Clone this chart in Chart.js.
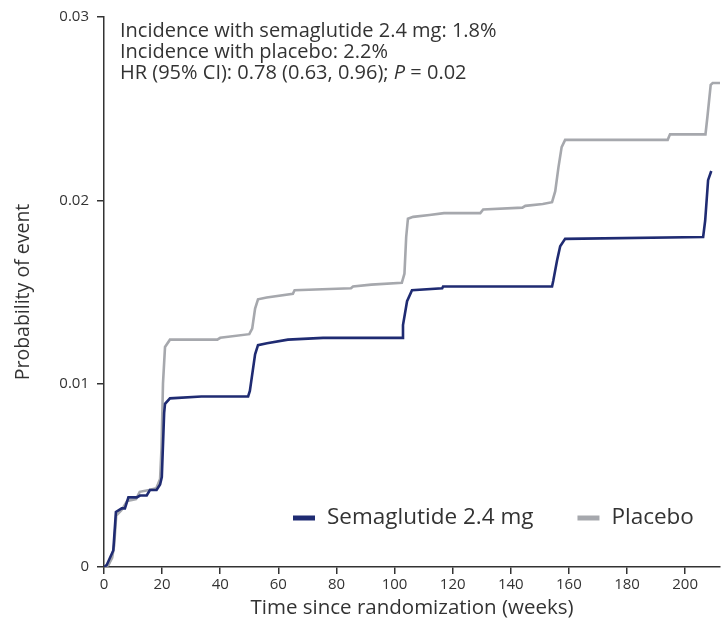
<!DOCTYPE html>
<html>
<head>
<meta charset="utf-8">
<script src="https://cdn.jsdelivr.net/npm/chart.js@4.4.1/dist/chart.umd.min.js"></script>
<style>
  html, body { margin: 0; padding: 0; background: #ffffff; }
  #wrap { width: 723px; height: 631px; position: relative; }
</style>
</head>
<body>
<div id="wrap"><canvas id="c" width="723" height="631"></canvas></div>
<script>
// ---- Data ----
const seriesLabels = ['Semaglutide 2.4 mg', 'Placebo'];

const semaWeeks = [0, 0.9, 3.2, 4.1, 6.1, 7.2, 8.4, 11.3, 12.4, 14.7, 15.8, 18.1, 19.3, 19.9, 20.7, 21.0, 22.7, 33.5, 49.6,
  50.2, 52.0, 53.0, 56.1, 63.3, 75.4, 102.6, 102.9, 104.3, 106.0, 116.4, 116.7, 154.2, 154.6, 155.9, 157.0, 158.7,
  206.2, 206.9, 207.9, 209.0];
const semaProb = [0, 0.0001, 0.0009, 0.0030, 0.0032, 0.0032, 0.0038, 0.0038, 0.0039, 0.0039, 0.0042, 0.0042, 0.0045, 0.0049, 0.0084, 0.0089, 0.0092, 0.0093, 0.0093,
  0.0096, 0.0116, 0.0121, 0.0122, 0.0124, 0.0125, 0.0125, 0.0132, 0.0145, 0.0151, 0.0152, 0.0153, 0.0153, 0.0156, 0.0167, 0.0175, 0.0179,
  0.0180, 0.0189, 0.0211, 0.0216];

const placeboWeeks = [0, 1.5, 2.8, 3.5, 4.2, 6.0, 8.0, 11.0, 12.3, 15.5, 18.0, 19.3, 19.8, 20.3, 21.0, 22.7, 39.0, 40.0, 50.0,
  51.0, 52.0, 53.0, 56.0, 65.0, 65.6, 85.0, 85.7, 92.0, 102.5, 103.4, 104.0, 104.6, 106.4, 112.0, 117.0, 129.5, 130.5,
  144.0, 145.0, 151.0, 154.2, 155.3, 156.4, 157.5, 158.7, 194.0, 194.8, 207.0, 207.7, 208.8, 209.5, 212.0];
const placeboProb = [0, 0.0001, 0.0005, 0.0012, 0.0028, 0.0031, 0.0036, 0.0037, 0.0041, 0.0042, 0.0043, 0.0048, 0.0065, 0.0100, 0.0120, 0.0124, 0.0124, 0.0125, 0.0127,
  0.0130, 0.0141, 0.0146, 0.0147, 0.0149, 0.0151, 0.0152, 0.0153, 0.0154, 0.0155, 0.0160, 0.0180, 0.0190, 0.0191, 0.0192, 0.0193, 0.0193, 0.0195,
  0.0196, 0.0197, 0.0198, 0.0199, 0.0205, 0.0218, 0.0229, 0.0233, 0.0233, 0.0236, 0.0236, 0.0246, 0.0263, 0.0264, 0.0264];

const xTickValues = [0, 20, 40, 60, 80, 100, 120, 140, 160, 180, 200];
const yTickValues = [0, 0.01, 0.02, 0.03];
const yTickLabels = ['0', '0.01', '0.02', '0.03'];

const annotationLines = [
  'Incidence with semaglutide 2.4 mg: 1.8%',
  'Incidence with placebo: 2.2%',
  'HR (95% CI): 0.78 (0.63, 0.96); ',
];
const annotationItalic = 'P';
const annotationTail = ' = 0.02';

// ---- Styling ----
const NAVY = '#1f2b72';
const GRAY = '#a6a8ad';
const TEXT = '#333333';
const FONT = "'Open Sans', 'DejaVu Sans', sans-serif";
const ANN_SIZE = 20;

function toPoints(xs, ys) { return xs.map((x, i) => ({ x: x, y: ys[i] })); }

const annotationPlugin = {
  id: 'annotationText',
  afterDraw(chart) {
    const ctx = chart.ctx;
    const area = chart.chartArea;
    ctx.save();
    ctx.fillStyle = TEXT;
    ctx.textBaseline = 'middle';
    ctx.textAlign = 'left';
    const base = ANN_SIZE + 'px ' + FONT;
    ctx.font = base;
    const x0 = area.left + 16;
    const ys = [area.top + 14, area.top + 35, area.top + 56];
    ctx.fillText(annotationLines[0], x0, ys[0]);
    ctx.fillText(annotationLines[1], x0, ys[1]);
    ctx.fillText(annotationLines[2], x0, ys[2]);
    const w = ctx.measureText(annotationLines[2]).width;
    ctx.font = 'italic ' + base;
    ctx.fillText(annotationItalic, x0 + w, ys[2]);
    const w2 = ctx.measureText(annotationItalic).width;
    ctx.font = base;
    ctx.fillText(annotationTail, x0 + w + w2, ys[2]);

    // legend
    const ly = area.bottom - 49;
    ctx.font = '22.5px ' + FONT;
    let lx = area.left + 189;
    chart.data.datasets.forEach((ds) => {
      ctx.strokeStyle = ds.borderColor;
      ctx.lineWidth = 5;
      ctx.beginPath();
      ctx.moveTo(lx, ly);
      ctx.lineTo(lx + 22, ly);
      ctx.stroke();
      ctx.fillStyle = TEXT;
      ctx.fillText(ds.label, lx + 34, ly);
      lx += 34 + ctx.measureText(ds.label).width + 44;
    });
    ctx.restore();
  }
};

new Chart(document.getElementById('c'), {
  type: 'line',
  data: {
    datasets: [
      {
        label: seriesLabels[0],
        data: toPoints(semaWeeks, semaProb),
        borderColor: NAVY,
        borderWidth: 2.6,
        pointRadius: 0,
        tension: 0,
        fill: false,
        order: 1
      },
      {
        label: seriesLabels[1],
        data: toPoints(placeboWeeks, placeboProb),
        borderColor: GRAY,
        borderWidth: 2.6,
        pointRadius: 0,
        tension: 0,
        fill: false,
        order: 2
      }
    ]
  },
  options: {
    responsive: false,
    animation: false,
    layout: { padding: { top: 16, right: 3, left: 0, bottom: 0 } },
    plugins: {
      legend: { display: false },
      tooltip: { enabled: false }
    },
    scales: {
      x: {
        type: 'linear',
        min: 0,
        max: 212,
        afterBuildTicks(scale) { scale.ticks = xTickValues.map(v => ({ value: v })); },
        afterFit(scale) { scale.height = 64; },
        ticks: {
          color: TEXT,
          font: { family: FONT, size: 15 },
          padding: 2,
          maxRotation: 0,
          autoSkip: false
        },
        grid: { drawOnChartArea: false, drawTicks: true, tickLength: 7, color: TEXT, lineWidth: 1.5 },
        border: { display: true, color: TEXT, width: 1.5 },
        title: {
          display: true,
          text: 'Time since randomization (weeks)',
          color: TEXT,
          font: { family: FONT, size: 20.5 },
          padding: { top: 0, bottom: 11 }
        }
      },
      y: {
        type: 'linear',
        min: 0,
        max: 0.03,
        afterBuildTicks(scale) { scale.ticks = yTickValues.map(v => ({ value: v })); },
        afterFit(scale) { scale.width = 104; },
        ticks: {
          color: TEXT,
          font: { family: FONT, size: 15 },
          padding: 8,
          callback(value, index) { return yTickLabels[index]; }
        },
        grid: { drawOnChartArea: false, drawTicks: true, tickLength: 7, color: TEXT, lineWidth: 1.5 },
        border: { display: true, color: TEXT, width: 1.5 },
        title: {
          display: true,
          text: 'Probability of event',
          color: TEXT,
          font: { family: FONT, size: 19.5 },
          padding: { top: 12, bottom: 0 }
        }
      }
    }
  },
  plugins: [annotationPlugin]
});
</script>
</body>
</html>
